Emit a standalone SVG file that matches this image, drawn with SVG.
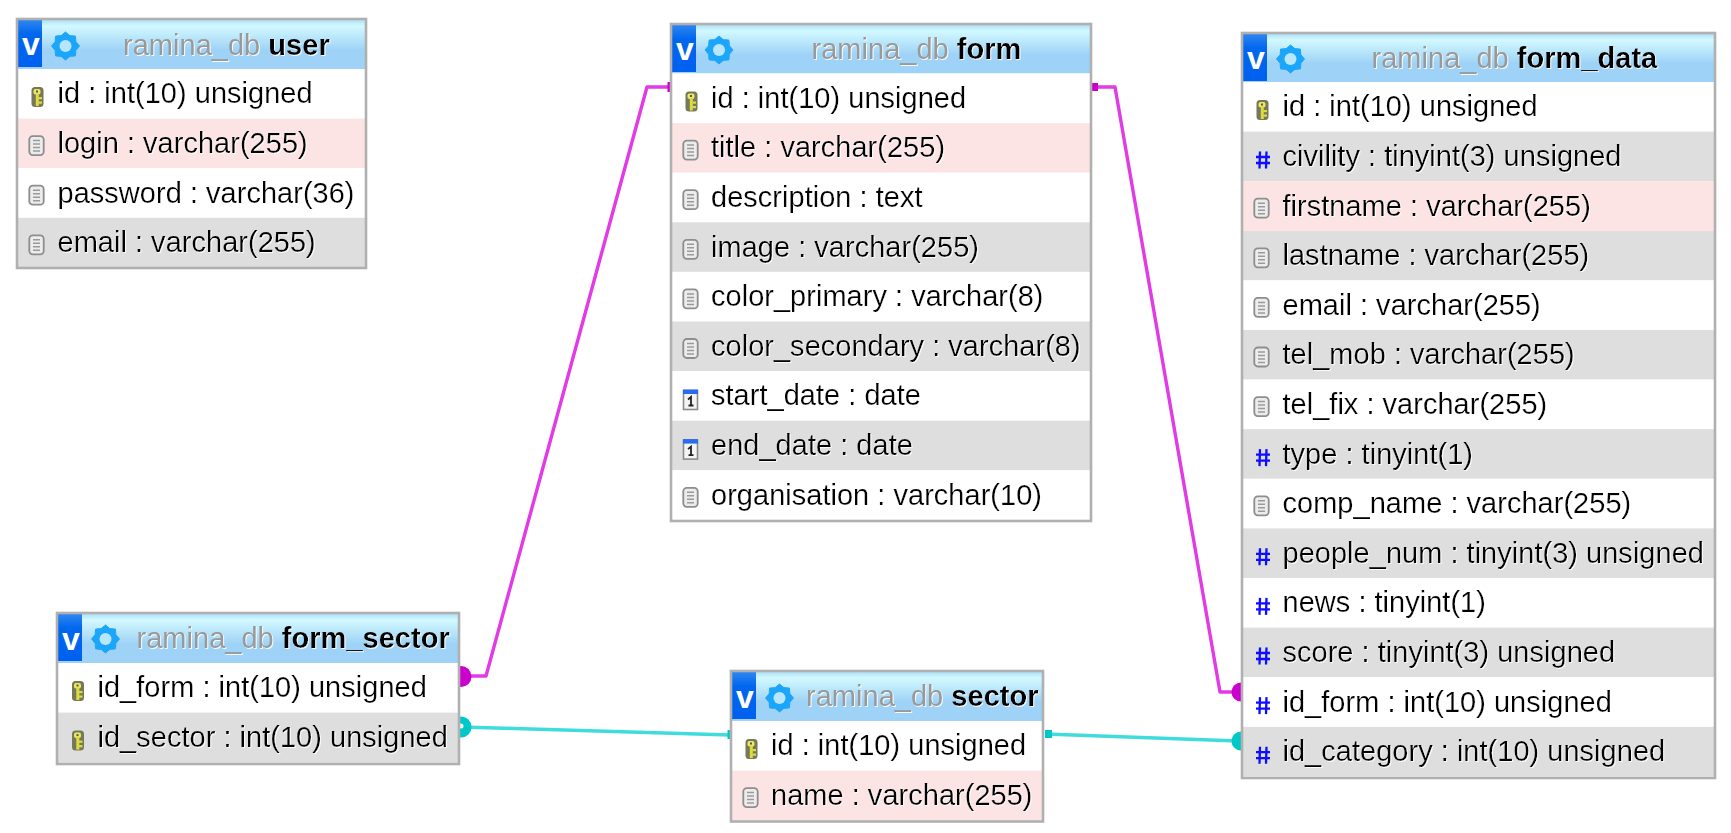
<svg xmlns="http://www.w3.org/2000/svg" width="1731" height="833" viewBox="0 0 1731 833">
<style>
text{font-family:"Liberation Sans",Arial,sans-serif;font-size:29.05px;fill:#000}
.t{filter:url(#halo)}
.db{fill:#999}
.nm{font-weight:700}
.w{fill:#fff}.p{fill:#fde4e4}.g{fill:#dedede}
.hd{fill:url(#hdr)}
.bd{fill:url(#bdg)}
.box{fill:none;stroke:#b0b0b0;stroke-width:2.6}
.v{font-weight:700;font-size:32px;fill:#fff}
.lm{fill:none;stroke:#e23ae6;stroke-width:3.4;stroke-linejoin:round}
.lc{fill:none;stroke:#3fdcdc;stroke-width:3.6}
.em{fill:#cc00cc}.ec{fill:#00c8c8}
</style>
<defs>
<filter id="halo" x="-5%" y="-15%" width="110%" height="130%">
<feGaussianBlur in="SourceGraphic" stdDeviation="0.3" result="b"/>
<feDropShadow in="b" dx="0.9" dy="0.9" stdDeviation="0.5" flood-color="#fff" flood-opacity="1"/>
</filter>
<filter id="soft" x="-30%" y="-30%" width="160%" height="160%"><feGaussianBlur stdDeviation="0.5"/></filter>
<filter id="line" filterUnits="userSpaceOnUse" x="0" y="0" width="1731" height="833"><feGaussianBlur stdDeviation="0.6"/></filter>
<linearGradient id="hdr" x1="0" y1="0" x2="0" y2="1">
<stop offset="0" stop-color="#a9dcf8"/><stop offset="0.14" stop-color="#d2f9ff"/><stop offset="0.62" stop-color="#9ed2f6"/><stop offset="1" stop-color="#9ed2f6"/>
</linearGradient>
<linearGradient id="bdg" x1="0" y1="0" x2="0" y2="1">
<stop offset="0" stop-color="#2f86f0"/><stop offset="0.3" stop-color="#0067ee"/><stop offset="1" stop-color="#0060f0"/>
</linearGradient>
<g id="gear" filter="url(#soft)">
<polygon points="14,0 10.4,4.3 9.9,9.9 4.3,10.4 0,14 -4.3,10.4 -9.9,9.9 -10.4,4.3 -14,0 -10.4,-4.3 -9.9,-9.9 -4.3,-10.4 0,-14 4.3,-10.4 9.9,-9.9 10.4,-4.3" fill="#1fa6fa" stroke="#1fa6fa" stroke-linejoin="round"/>
<circle r="6" fill="#b8e6ff"/>
</g>
<g id="key" filter="url(#soft)">
<rect x="-5.500" y="-10" width="12" height="20" rx="3.500" fill="#77775a"/>
<rect x="-3.500" y="-8" width="7" height="5.500" rx="2" fill="#eaea60"/>
<rect x="-1.200" y="-3.500" width="3" height="12.500" fill="#dcdc40"/>
<rect x="1.500" y="0" width="3.500" height="2.200" fill="#dcdc40"/>
<rect x="1.500" y="4.500" width="3.500" height="2.200" fill="#dcdc40"/>
<rect x="-1" y="-6.500" width="2" height="2" fill="#555"/>
</g>
<g id="doc" filter="url(#soft)">
<rect x="-7.200" y="-9.500" width="14.400" height="19" rx="3.500" fill="#ececec" stroke="#8e8e8e" stroke-width="1.8"/>
<path d="M-3.500-5h7M-3.500-1.500h7M-3.500 2h7M-3.500 5.500h7" stroke="#9a9a9a" stroke-width="1.5" fill="none"/>
</g>
<g id="hash" filter="url(#soft)">
<path d="M-3-8.500-3.500 8.500M3.500-8.500 3 8.500M-7-3H7M-7 3H7" stroke="#0c0cff" stroke-width="2.3" fill="none"/>
</g>
<g id="cal" filter="url(#soft)">
<rect x="-7" y="-9" width="14" height="19" fill="#f4f4f4" stroke="#8c8c8c" stroke-width="1.6"/>
<rect x="-7.500" y="-10" width="15" height="4.500" fill="#2a6cf0"/>
<path d="M-2.500 0 0.500-2.500V6M-2 6H3" stroke="#222" stroke-width="1.8" fill="none"/>
</g>
</defs>
<rect width="1731" height="833" fill="#fff"/>

<g id="connectors" filter="url(#line)">
<path class="lm" d="M670 87H647L486 676H462"/>
<path class="lm" d="M1092 87H1115L1220 692H1238"/>
<path class="lc" d="M462 727L730 735"/>
<path class="lc" d="M1045 734L1238 741"/>
<rect class="em" x="667.500" y="82" width="3" height="10"/>
<rect class="em" x="1091" y="83" width="7" height="8"/>
<circle class="em" cx="461" cy="676.500" r="10.500"/>
<circle class="em" cx="1241" cy="692" r="9.500"/>
<circle class="ec" cx="461" cy="727" r="10.500"/>
<circle cx="461" cy="726" r="2.500" fill="#fff"/>
<rect class="ec" x="727.500" y="730" width="3" height="9"/>
<rect class="ec" x="1045" y="730" width="7" height="8"/>
<circle class="ec" cx="1241" cy="741" r="9.500"/>
</g>

<g id="node-user">
<rect class="hd" x="17" y="19" width="349" height="50"/>
<rect class="bd" x="18" y="20" width="24" height="47"/>
<text class="v" x="22" y="55">v</text>
<use href="#gear" x="65.500" y="46"/>
<rect class="w" x="17" y="69" width="349" height="49.600"/>
<rect class="p" x="17" y="118.600" width="349" height="49.600"/>
<rect class="w" x="17" y="168.200" width="349" height="49.600"/>
<rect class="g" x="17" y="217.800" width="349" height="49.600"/>
<rect class="box" x="17" y="19" width="349" height="249"/>
<use href="#key" x="37" y="97"/>
<use href="#doc" x="36.500" y="145.600"/>
<use href="#doc" x="36.500" y="195.200"/>
<use href="#doc" x="36.500" y="244.800"/>
<g class="t">
<text x="123" y="54.500"><tspan class="db">ramina_db </tspan><tspan class="nm">user</tspan></text>
<text x="57.500" y="103.300">id : int(10) unsigned</text>
<text x="57.500" y="152.900">login : varchar(255)</text>
<text x="57.500" y="202.500">password : varchar(36)</text>
<text x="57.500" y="252.100">email : varchar(255)</text>
</g>
</g>

<g id="node-form">
<rect class="hd" x="671" y="24" width="420" height="49.500"/>
<rect class="bd" x="672" y="25" width="24" height="47"/>
<text class="v" x="676" y="60">v</text>
<use href="#gear" x="719" y="50"/>
<rect class="w" x="671" y="73.500" width="420" height="49.600"/>
<rect class="p" x="671" y="123.100" width="420" height="49.600"/>
<rect class="w" x="671" y="172.700" width="420" height="49.600"/>
<rect class="g" x="671" y="222.300" width="420" height="49.600"/>
<rect class="w" x="671" y="271.900" width="420" height="49.600"/>
<rect class="g" x="671" y="321.500" width="420" height="49.600"/>
<rect class="w" x="671" y="371.100" width="420" height="49.600"/>
<rect class="g" x="671" y="420.700" width="420" height="49.600"/>
<rect class="w" x="671" y="470.300" width="420" height="49.600"/>
<rect class="box" x="671" y="24" width="420" height="497"/>
<use href="#key" x="691" y="101.500"/>
<use href="#doc" x="690.500" y="150.100"/>
<use href="#doc" x="690.500" y="199.700"/>
<use href="#doc" x="690.500" y="249.300"/>
<use href="#doc" x="690.500" y="298.900"/>
<use href="#doc" x="690.500" y="348.500"/>
<use href="#cal" x="690.500" y="399.500"/>
<use href="#cal" x="690.500" y="449.100"/>
<use href="#doc" x="690.500" y="497.300"/>
<g class="t">
<text x="811.500" y="59"><tspan class="db">ramina_db </tspan><tspan class="nm">form</tspan></text>
<text x="711" y="107.800">id : int(10) unsigned</text>
<text x="711" y="157.400">title : varchar(255)</text>
<text x="711" y="207">description : text</text>
<text x="711" y="256.600">image : varchar(255)</text>
<text x="711" y="306.200">color_primary : varchar(8)</text>
<text x="711" y="355.800">color_secondary : varchar(8)</text>
<text x="711" y="405.400">start_date : date</text>
<text x="711" y="455">end_date : date</text>
<text x="711" y="504.600">organisation : varchar(10)</text>
</g>
</g>

<g id="node-form_data">
<rect class="hd" x="1242" y="33" width="473" height="49"/>
<rect class="bd" x="1243" y="34" width="24" height="47"/>
<text class="v" x="1247" y="69">v</text>
<use href="#gear" x="1290.500" y="59"/>
<rect class="w" x="1242" y="82" width="473" height="49.600"/>
<rect class="g" x="1242" y="131.600" width="473" height="49.600"/>
<rect class="p" x="1242" y="181.200" width="473" height="49.600"/>
<rect class="g" x="1242" y="230.800" width="473" height="49.600"/>
<rect class="w" x="1242" y="280.400" width="473" height="49.600"/>
<rect class="g" x="1242" y="330" width="473" height="49.600"/>
<rect class="w" x="1242" y="379.600" width="473" height="49.600"/>
<rect class="g" x="1242" y="429.200" width="473" height="49.600"/>
<rect class="w" x="1242" y="478.800" width="473" height="49.600"/>
<rect class="g" x="1242" y="528.400" width="473" height="49.600"/>
<rect class="w" x="1242" y="578" width="473" height="49.600"/>
<rect class="g" x="1242" y="627.600" width="473" height="49.600"/>
<rect class="w" x="1242" y="677.200" width="473" height="49.600"/>
<rect class="g" x="1242" y="726.800" width="473" height="49.600"/>
<rect class="box" x="1242" y="33" width="473" height="745"/>
<use href="#key" x="1262" y="110"/>
<use href="#hash" x="1263" y="160"/>
<use href="#doc" x="1261.500" y="208.200"/>
<use href="#doc" x="1261.500" y="257.800"/>
<use href="#doc" x="1261.500" y="307.400"/>
<use href="#doc" x="1261.500" y="357"/>
<use href="#doc" x="1261.500" y="406.600"/>
<use href="#hash" x="1263" y="457.600"/>
<use href="#doc" x="1261.500" y="505.800"/>
<use href="#hash" x="1263" y="556.800"/>
<use href="#hash" x="1263" y="606.400"/>
<use href="#hash" x="1263" y="656"/>
<use href="#hash" x="1263" y="705.600"/>
<use href="#hash" x="1263" y="755.200"/>
<g class="t">
<text x="1371.500" y="67.700"><tspan class="db">ramina_db </tspan><tspan class="nm">form_data</tspan></text>
<text x="1282.500" y="116.300">id : int(10) unsigned</text>
<text x="1282.500" y="165.900">civility : tinyint(3) unsigned</text>
<text x="1282.500" y="215.500">firstname : varchar(255)</text>
<text x="1282.500" y="265.100">lastname : varchar(255)</text>
<text x="1282.500" y="314.700">email : varchar(255)</text>
<text x="1282.500" y="364.300">tel_mob : varchar(255)</text>
<text x="1282.500" y="413.900">tel_fix : varchar(255)</text>
<text x="1282.500" y="463.500">type : tinyint(1)</text>
<text x="1282.500" y="513.100">comp_name : varchar(255)</text>
<text x="1282.500" y="562.700">people_num : tinyint(3) unsigned</text>
<text x="1282.500" y="612.300">news : tinyint(1)</text>
<text x="1282.500" y="661.900">score : tinyint(3) unsigned</text>
<text x="1282.500" y="711.500">id_form : int(10) unsigned</text>
<text x="1282.500" y="761.100">id_category : int(10) unsigned</text>
</g>
</g>

<g id="node-form_sector">
<rect class="hd" x="57" y="613" width="402" height="50"/>
<rect class="bd" x="58" y="614" width="24" height="47"/>
<text class="v" x="62" y="650">v</text>
<use href="#gear" x="105.500" y="639"/>
<rect class="w" x="57" y="663" width="402" height="49.600"/>
<rect class="g" x="57" y="712.600" width="402" height="50"/>
<rect class="box" x="57" y="613" width="402" height="151"/>
<use href="#key" x="77.500" y="691"/>
<use href="#key" x="77.500" y="740.600"/>
<g class="t">
<text x="136.500" y="647.500"><tspan class="db">ramina_db </tspan><tspan class="nm">form_sector</tspan></text>
<text x="97.500" y="697.300">id_form : int(10) unsigned</text>
<text x="97.500" y="746.900">id_sector : int(10) unsigned</text>
</g>
</g>

<g id="node-sector">
<rect class="hd" x="731" y="671" width="312" height="50"/>
<rect class="bd" x="732" y="672" width="24" height="47"/>
<text class="v" x="736" y="708">v</text>
<use href="#gear" x="779.500" y="698"/>
<rect class="w" x="731" y="721" width="312" height="49.600"/>
<rect class="p" x="731" y="770.600" width="312" height="50"/>
<rect class="box" x="731" y="671" width="312" height="150.500"/>
<use href="#key" x="751" y="749"/>
<use href="#doc" x="750.500" y="797.600"/>
<g class="t">
<text x="806" y="706"><tspan class="db">ramina_db </tspan><tspan class="nm">sector</tspan></text>
<text x="771" y="755.300">id : int(10) unsigned</text>
<text x="771" y="804.900">name : varchar(255)</text>
</g>
</g>
</svg>
